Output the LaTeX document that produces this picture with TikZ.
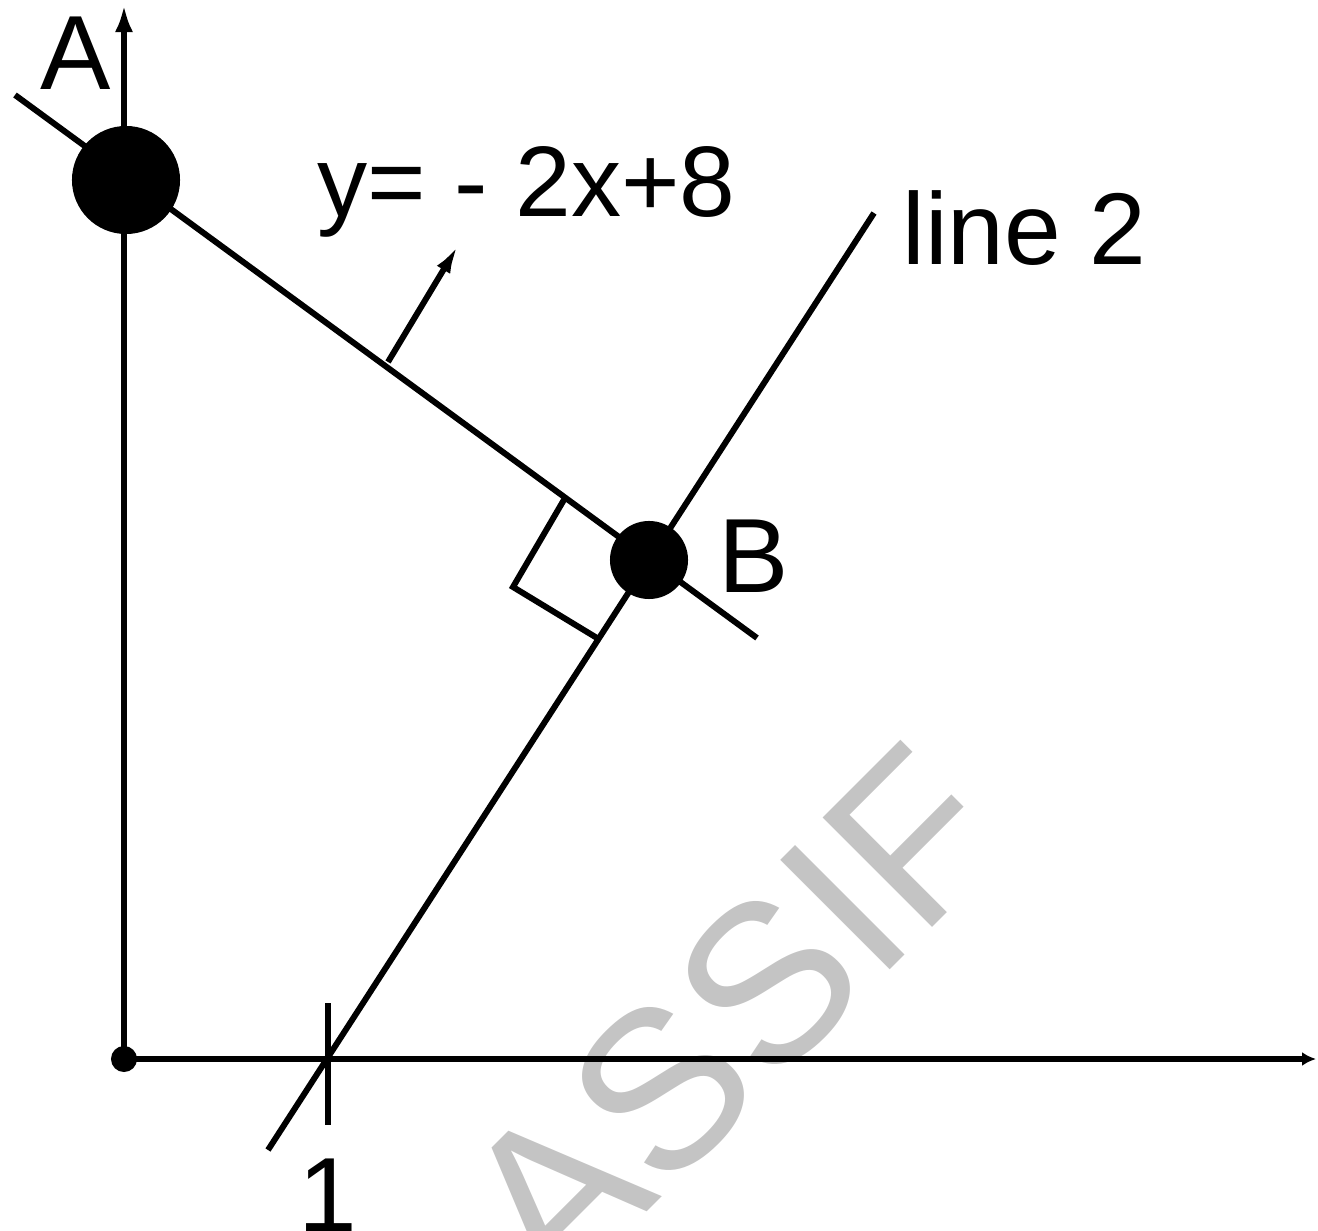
\documentclass[tikz,border=0pt]{standalone}
\usepackage{fontspec}
\setmainfont{Liberation Sans}
\usetikzlibrary{arrows.meta}
\definecolor{wmark}{RGB}{196,196,196}

\begin{document}
\begin{tikzpicture}[
        x=0.01cm, y=-0.01cm,
        line/.style={line width=1.7pt},
        dot/.style={circle, fill=black, inner sep=0pt},
        lbl/.style={font=\fontsize{30}{30}\selectfont, inner sep=0pt, anchor=base},
        eqn/.style={font=\fontsize{28.5}{28.5}\selectfont, inner sep=0pt, anchor=base west}
    ]
    \useasboundingbox (0,0) rectangle (1318,1231);

    % Watermark
    \node[text=wmark, rotate=45, inner sep=0pt, font=\fontsize{64}{64}\selectfont] (wm) at (732,1018) {ASSIF};

    % Axes
    \coordinate (O) at (124,1059);
    \coordinate (ytop) at (124,5);
    \coordinate (xend) at (1316,1059);
    \draw[line, -{Latex[length=2.7mm, width=1.8mm]}] (O) -- (ytop);
    \draw[line, -{Latex[length=1.4mm, width=1.4mm]}] (O) -- (xend);
    \node[dot, minimum size=0.26cm] (orig) at (O) {};

    % Tick at x = 1
    \coordinate (tk1) at (328,1003);
    \coordinate (tk2) at (328,1125);
    \draw[line] (tk1) -- (tk2);
    \node[lbl] (lab1) at (328,1231) {1};

    % Line 1 and line 2
    \coordinate (l1s) at (15,95);
    \coordinate (l1e) at (757,638);
    \draw[line] (l1s) -- (l1e);
    \coordinate (l2s) at (268,1150);
    \coordinate (l2e) at (874,213);
    \draw[line] (l2s) -- (l2e);

    % Right angle mark
    \coordinate (ra1) at (565,498);
    \coordinate (ra2) at (513,587);
    \coordinate (ra3) at (597,638);
    \draw[line] (ra1) -- (ra2) -- (ra3);

    % Pointer to the equation
    \coordinate (ar1) at (388,362);
    \coordinate (ar2) at (459,244);
    \draw[line, -{Latex[length=3mm, width=1.5mm]}] (ar1) -- (ar2);

    % Points
    \node[dot, minimum size=1.08cm] (ptA) at (126,180) {};
    \node[dot, minimum size=0.78cm] (ptB) at (649,560) {};

    % Labels
    \node[lbl] (labA) at (76,90) {A};
    \node[lbl] (labB) at (754,593) {B};
    \node[lbl, anchor=base west, font=\fontsize{29}{29}\selectfont] (labL2) at (902,265) {line 2};
    \node[eqn] (labEq) at (317,217) {y= - 2x+8};

\end{tikzpicture}
\end{document}
